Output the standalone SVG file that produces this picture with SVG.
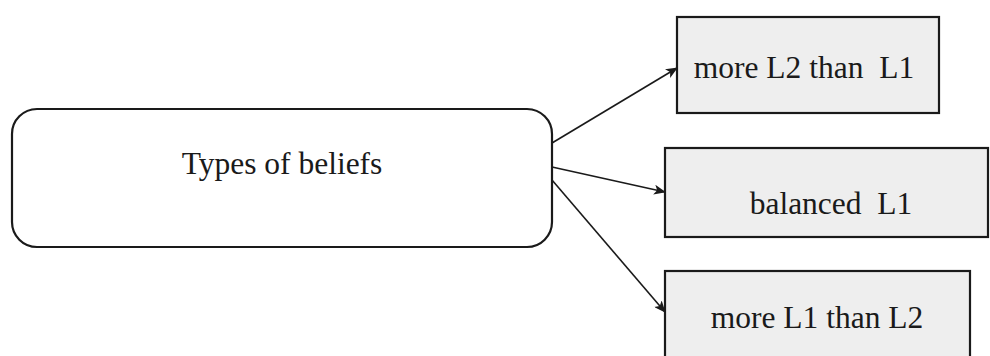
<svg xmlns="http://www.w3.org/2000/svg" width="990" height="356" viewBox="0 0 990 356">
<style>
.node{fill:#eeeeee;stroke:#1a1a1a;stroke-width:2.2}
.main{fill:#ffffff;stroke:#1a1a1a;stroke-width:2.2}
.t{font-family:"Liberation Serif","Times New Roman",serif;font-size:31.5px;fill:#1a1a1a;text-anchor:middle;white-space:pre}
.edge{stroke:#1a1a1a;stroke-width:1.6;fill:none;marker-end:url(#ah)}
</style>
<defs>
<marker id="ah" markerWidth="12" markerHeight="10" refX="11" refY="5" orient="auto" markerUnits="userSpaceOnUse">
<path d="M0,0 L12,5 L0,10 L3,5 Z" fill="#1a1a1a"/>
</marker>
</defs>
<g id="types">
<rect class="main" x="12" y="109" width="540" height="138" rx="25" ry="25"/>
<text class="t" x="282" y="174">Types of beliefs</text>
</g>
<g id="l2-more">
<rect class="node" x="677" y="17" width="262" height="96"/>
<text class="t" x="804" y="78" xml:space="preserve">more L2 than  L1</text>
</g>
<g id="balanced">
<rect class="node" x="665" y="148" width="323" height="89"/>
<text class="t" x="831" y="214" xml:space="preserve">balanced  L1</text>
</g>
<g id="l1-more">
<rect class="node" x="665" y="271" width="305" height="95"/>
<text class="t" x="817" y="328">more L1 than L2</text>
</g>
<g id="connectors">
<line class="edge" x1="552" y1="143" x2="677" y2="68"/>
<line class="edge" x1="552" y1="167" x2="665" y2="192"/>
<line class="edge" x1="552" y1="180" x2="665" y2="312"/>
</g>
</svg>
